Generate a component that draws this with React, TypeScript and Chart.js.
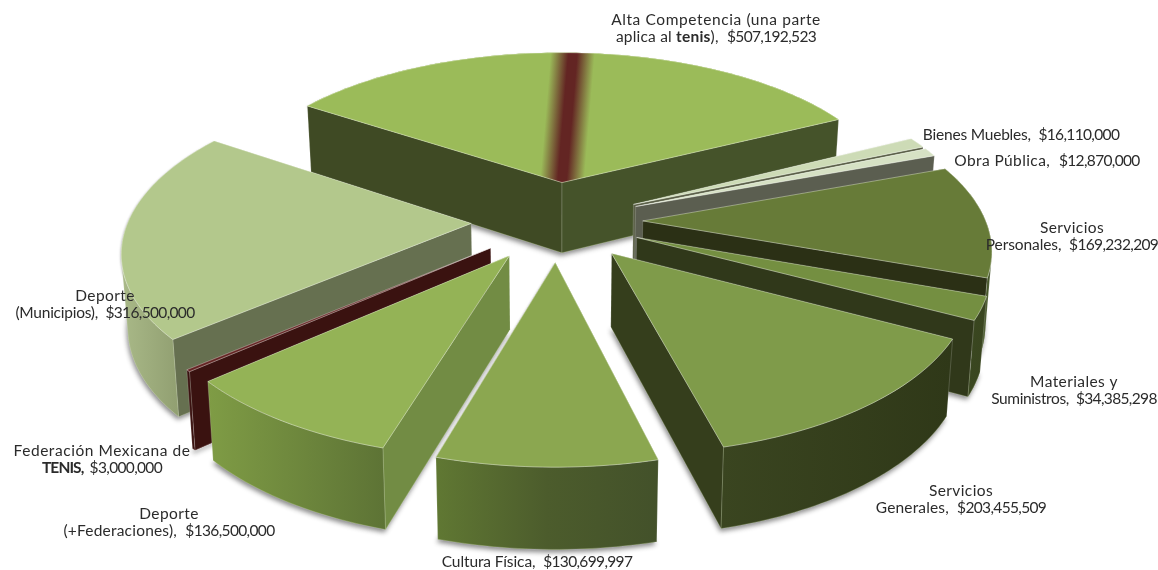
import { useEffect, useRef } from "react";
import { Chart, PieController, ArcElement } from "chart.js";

Chart.register(ArcElement);

// Budget items, clockwise from the large slice at the back of the pie.
const sliceValues = [
  507192523, 16110000, 12870000, 169232209, 34385298,
  203455509, 130699997, 136500000, 3000000, 316500000,
];

// Label lines: **text** is bold, {v} is the formatted value of the slice.
const sliceLabels = [
  ["Alta Competencia (una parte", "aplica al **tenis**),  {v}"],
  ["Bienes Muebles,  {v}"],
  ["Obra Pública,  {v}"],
  ["Servicios", "Personales,  {v}"],
  ["Materiales y", "Suministros,  {v}"],
  ["Servicios", "Generales,  {v}"],
  ["Cultura Física,  {v}"],
  ["Deporte", "(+Federaciones),  {v}"],
  ["Federación Mexicana de", "**TENIS,**  {v}"],
  ["Deporte", "(Municipios),  {v}"],
];

// Centre x and first-line middle y of each label.
const labelAnchors = [
  [716, 20], [1021, 135], [1047, 161], [1072, 228], [1074, 382],
  [961, 491], [537, 562], [169, 514], [102, 451], [105, 296],
];

// Letter spacing in px for the words of each label line.
const labelTracking = [
  [0.6, 0.2], [-0.2], [0.4], [0.4, -0.1], [0.4, -0.4],
  [0.4, 0.15], [-0.1], [0.4, 0.2], [0.55, -0.9], [0.4, -0.25],
];

const topColors = [
  "#9BBB59", "#CDDBB6", "#D6E1C4", "#677B38", "#748F41",
  "#7F9B4A", "#8BA750", "#94B356", "#632523", "#B3C88C",
];
// Side facing the slice before / after this one.
const cutStartColors = [
  "#3F4A24", "#5B5E50", "#5B5E50", "#2B3015", "#30381A",
  "#353E1C", "#4A5A2A", "#728C44", "#3A1210", "#667050",
];
const cutEndColors = [
  "#45532A", "#5B6048", "#5B5E50", "#2B3015", "#30381A",
  "#353E1C", "#4A5A2A", "#728C44", "#3A1210", "#667050",
];
// Rim shading, left to right across the visible curved wall.
const rimStops = [
  ["#45532A", "#45532A"], ["#5B5E50", "#5B5E50"], ["#5B5E50", "#5B5E50"],
  ["#46562A", "#46562A"], ["#3A4720", "#39451F"], ["#3A4520", "#2F3818"],
  ["#607833", "#4C5C2C", "#43512A"], ["#7F9C45", "#5D7335"], ["#3A1210", "#3A1210"],
  ["#A9B988", "#919F71"],
];

// View of the pie from above: unit disc projected onto the page.
const VIEW = { cx: 557, cy: 221, rx: 343, ry: 160, persp: 0.15, depth: 72, depthPersp: 0.1, taper: 0.985 };
const EXPLODE = 0.25;
const START_ROTATION = -56.2;
// Position across the first slice of the band that marks the tennis share.
const TENNIS_BAND = { at: 0.49, halfWidth: 22 };

type P = { x: number; y: number };

function project(u: number, v: number, low: boolean): P {
  const w = 1 - VIEW.persp * v;
  const px = (VIEW.rx * u) / w;
  const py = (VIEW.ry * v) / w;
  if (!low) return { x: VIEW.cx + px, y: VIEW.cy + py };
  return {
    x: VIEW.cx + px * VIEW.taper,
    y: VIEW.cy + py + VIEW.depth / (1 - VIEW.depthPersp * v),
  };
}

function tracePath(ctx: CanvasRenderingContext2D, pts: P[]) {
  ctx.beginPath();
  pts.forEach((p, i) => (i ? ctx.lineTo(p.x, p.y) : ctx.moveTo(p.x, p.y)));
  ctx.closePath();
}

function signedArea(pts: P[]) {
  let a = 0;
  pts.forEach((p, i) => {
    const q = pts[(i + 1) % pts.length];
    a += p.x * q.y - q.x * p.y;
  });
  return a;
}

// Pie whose arcs are extruded and projected, painted from back to front.
class Pie3DController extends PieController {
  static id = "pie3d";
  static defaults = PieController.defaults;

  draw() {
    const ctx = this.chart.ctx;
    const arcs = this.getMeta().data as any[];
    const order = arcs
      .map((el, i) => ({ el, i, depth: Math.sin((el.startAngle + el.endAngle) / 2) }))
      .sort((a, b) => a.depth - b.depth);
    order.forEach(({ el, i }) => this.drawSlice(ctx, el, i));
  }

  drawSlice(ctx: CanvasRenderingContext2D, el: any, i: number) {
    const mid = (el.startAngle + el.endAngle) / 2;
    const ou = Math.cos(mid) * EXPLODE;
    const ov = Math.sin(mid) * EXPLODE;
    const steps = Math.max(2, Math.ceil((el.endAngle - el.startAngle) / 0.02));
    const rimAngles: number[] = [];
    for (let s = 0; s <= steps; s++) rimAngles.push(el.startAngle + ((el.endAngle - el.startAngle) * s) / steps);

    const rimTop = rimAngles.map((a) => project(ou + Math.cos(a), ov + Math.sin(a), false));
    const rimLow = rimAngles.map((a) => project(ou + Math.cos(a), ov + Math.sin(a), true));
    const tipTop = project(ou, ov, false);
    const tipLow = project(ou, ov, true);
    const top = [tipTop, ...rimTop];
    const bottom = [tipLow, ...rimLow];

    const cutStart = [tipTop, rimTop[0], rimLow[0], tipLow];
    const cutEnd = [rimTop[steps], tipTop, tipLow, rimLow[steps]];

    // Longest run of rim segments turned towards the viewer.
    let first = -1;
    let last = -1;
    for (let s = 0; s < steps; s++) {
      if (signedArea([rimTop[s], rimTop[s + 1], rimLow[s + 1], rimLow[s]]) < 0) {
        if (first < 0) first = s;
        last = s + 1;
      }
    }
    const rimWall = first < 0 ? null : [
      ...rimTop.slice(first, last + 1),
      ...rimLow.slice(first, last + 1).reverse(),
    ];

    const walls: { pts: P[]; fill: string | CanvasGradient }[] = [];
    if (signedArea(cutStart) < 0) walls.push({ pts: cutStart, fill: cutStartColors[i] });
    if (signedArea(cutEnd) < 0) walls.push({ pts: cutEnd, fill: cutEndColors[i] });
    if (rimWall) {
      const xs = rimWall.map((p) => p.x);
      const g = ctx.createLinearGradient(Math.min(...xs), 0, Math.max(...xs), 0);
      rimStops[i].forEach((c, k, all) => g.addColorStop(k / (all.length - 1), c));
      walls.push({ pts: rimWall, fill: g });
    }

    // Soft drop shadow under the solid, and a tighter one around its top face.
    ctx.save();
    ctx.fillStyle = topColors[i];
    ctx.shadowColor = "rgba(40,40,40,0.55)";
    ctx.shadowBlur = 5;
    ctx.shadowOffsetX = -1;
    ctx.shadowOffsetY = 3;
    tracePath(ctx, bottom);
    ctx.fill();
    ctx.shadowColor = "rgba(40,40,40,0.3)";
    ctx.shadowBlur = 2;
    ctx.shadowOffsetY = 1;
    tracePath(ctx, top);
    ctx.fill();
    ctx.restore();

    ctx.lineJoin = "round";
    walls.forEach(({ pts, fill }) => {
      tracePath(ctx, pts);
      ctx.fillStyle = fill;
      ctx.fill();
      ctx.strokeStyle = "rgba(255,255,255,0.25)";
      ctx.lineWidth = 0.7;
      ctx.stroke();
    });

    tracePath(ctx, top);
    ctx.fillStyle = topColors[i];
    ctx.fill();

    if (i === 0) {
      // Blurred band inside the first slice: the share that goes to tennis.
      const a = el.startAngle + (el.endAngle - el.startAngle) * TENNIS_BAND.at;
      const end = project(ou + Math.cos(a), ov + Math.sin(a), false);
      const dx = end.x - tipTop.x;
      const dy = end.y - tipTop.y;
      const len = Math.hypot(dx, dy);
      const nx = (-dy / len) * TENNIS_BAND.halfWidth;
      const ny = (dx / len) * TENNIS_BAND.halfWidth;
      const g = ctx.createLinearGradient(tipTop.x - nx, tipTop.y - ny, tipTop.x + nx, tipTop.y + ny);
      g.addColorStop(0, "#9BBB59");
      g.addColorStop(0.4, "#632523");
      g.addColorStop(0.6, "#632523");
      g.addColorStop(1, "#9BBB59");
      ctx.fillStyle = g;
      ctx.fill();
    }

    ctx.strokeStyle = "rgba(255,255,255,0.45)";
    ctx.lineWidth = 0.8;
    ctx.stroke();
  }
}
Chart.register(Pie3DController);

function formatValue(v: number) {
  return "$" + v.toLocaleString("en-US");
}

const FONT_FAMILY = "Lato, sans-serif";
const AMOUNT_TRACKING = "-0.65px";

const labelPlugin = {
  id: "sliceLabels",
  afterDraw(chart: any) {
    const ctx: any = chart.ctx;
    ctx.save();
    ctx.fillStyle = "#2b2b2b";
    ctx.textBaseline = "middle";
    ctx.textAlign = "left";
    sliceLabels.forEach((lines, i) => {
      const [cx, y0] = labelAnchors[i];
      lines.forEach((line, l) => {
        const text = line.replace("{v}", formatValue(sliceValues[i]));
        // Split into bold / regular pieces, with amounts set tighter than words.
        const runs: { t: string; bold: boolean; amount: boolean }[] = [];
        text.split("**").forEach((piece, k) => {
          piece.split(/(\$[\d,]+)/).forEach((t) => {
            if (t) runs.push({ t, bold: k % 2 === 1, amount: t.startsWith("$") });
          });
        });
        const style = (r: { bold: boolean; amount: boolean }) => {
          ctx.font = `${r.bold ? "bold " : ""}15.5px ${FONT_FAMILY}`;
          ctx.letterSpacing = r.amount ? AMOUNT_TRACKING : `${labelTracking[i][l]}px`;
        };
        let width = 0;
        runs.forEach((r) => {
          style(r);
          width += ctx.measureText(r.t).width;
        });
        let x = cx - width / 2;
        const y = y0 + l * 17;
        runs.forEach((r) => {
          style(r);
          ctx.fillText(r.t, x, y);
          x += ctx.measureText(r.t).width;
        });
      });
    });
    ctx.restore();
  },
};

export default function App() {
  const ref = useRef<HTMLCanvasElement>(null);
  useEffect(() => {
    const chart = new Chart(ref.current as HTMLCanvasElement, {
      type: "pie3d" as any,
      data: {
        labels: sliceLabels.map((l) => l.join(" ")),
        datasets: [{ data: sliceValues, backgroundColor: topColors, borderWidth: 0 }],
      },
      options: {
        responsive: false,
        animation: false,
        rotation: START_ROTATION,
        layout: { padding: 0 },
        plugins: { legend: { display: false }, tooltip: { enabled: false } },
      } as any,
      plugins: [labelPlugin],
    });
    return () => chart.destroy();
  }, []);
  return (
    <canvas
      ref={ref}
      width={1158}
      height={570}
      style={{ position: "fixed", left: 0, top: 0, display: "block" }}
    />
  );
}
